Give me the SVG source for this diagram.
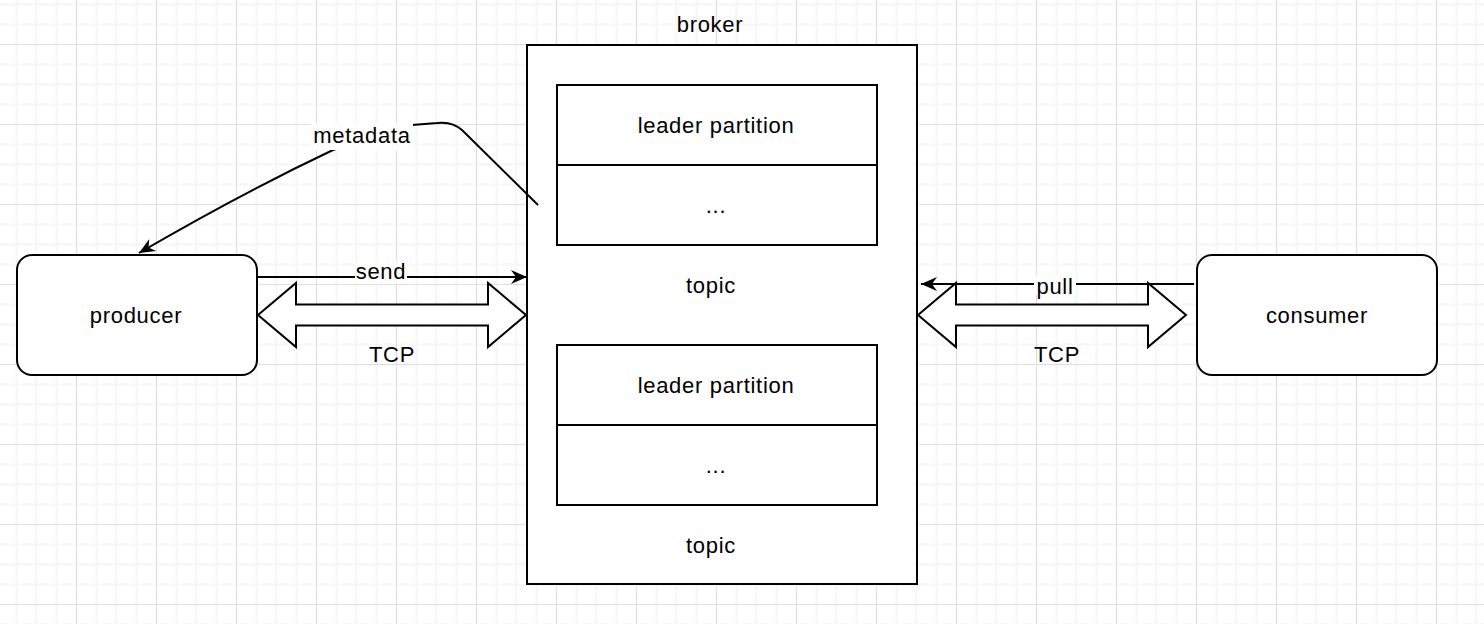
<svg xmlns="http://www.w3.org/2000/svg" width="1484" height="624" viewBox="0 0 1484 624">
<style>
.t{font-family:"Liberation Sans",Arial,Helvetica,sans-serif;font-size:22px;letter-spacing:0.7px;fill:#000;text-anchor:middle}
.s{fill:#fff;stroke:#000;stroke-width:2}
.e{fill:none;stroke:#000;stroke-width:2}
</style>
<defs>
<pattern id="grid" x="76" y="44" width="80" height="80" patternUnits="userSpaceOnUse">
<rect x="19.5" y="0" width="2" height="80" fill="#f6f6f6"/>
<rect x="39.5" y="0" width="2" height="80" fill="#f6f6f6"/>
<rect x="59.5" y="0" width="2" height="80" fill="#f6f6f6"/>
<rect x="0" y="19.5" width="80" height="2" fill="#f6f6f6"/>
<rect x="0" y="39.5" width="80" height="2" fill="#f6f6f6"/>
<rect x="0" y="59.5" width="80" height="2" fill="#f6f6f6"/>
<rect x="0" y="0" width="1" height="80" fill="#dedede"/>
<rect x="0" y="0" width="80" height="1" fill="#dedede"/>
</pattern>
<marker id="arr" markerUnits="userSpaceOnUse" markerWidth="20" markerHeight="20" viewBox="-18 -10 20 20" refX="0" refY="0" orient="auto">
<path d="M0,0 L-16,-7 L-11,0 L-16,7 Z" fill="#000"/>
</marker>
</defs>
<rect width="1484" height="624" fill="#fff"/>
<rect width="1484" height="624" fill="url(#grid)"/>

<g id="broker">
<rect class="s" x="527" y="45" width="390" height="539"/>
<text class="t" x="710" y="32">broker</text>
<text class="t" x="711" y="293">topic</text>
<text class="t" x="711" y="553">topic</text>
</g>
<g id="partition1">
<rect class="s" x="557" y="85" width="320" height="160"/>
<line class="e" x1="557" y1="165" x2="877" y2="165"/>
<text class="t" x="716" y="133">leader partition</text>
<text class="t" x="716" y="213">...</text>
</g>
<g id="partition2">
<rect class="s" x="557" y="345" width="320" height="160"/>
<line class="e" x1="557" y1="425" x2="877" y2="425"/>
<text class="t" x="716" y="393">leader partition</text>
<text class="t" x="716" y="473">...</text>
</g>
<g id="producer">
<rect class="s" x="17" y="255" width="240" height="120" rx="15" ry="15"/>
<text class="t" x="136" y="323">producer</text>
</g>
<g id="consumer">
<rect class="s" x="1197" y="255" width="240" height="120" rx="15" ry="15"/>
<text class="t" x="1317" y="323">consumer</text>
</g>

<g id="connectors">
<polygon class="s" points="258,315 296,283 296,304.5 488,304.5 488,283 526,315 488,347 488,325.5 296,325.5 296,347"/>
<text class="t" x="392" y="362">TCP</text>
<polygon class="s" points="918,315 956,283 956,304.5 1148,304.5 1148,283 1186,315 1148,347 1148,325.5 956,325.5 956,347"/>
<text class="t" x="1057" y="362">TCP</text>

<path class="e" d="M257,277 L527,277" marker-end="url(#arr)"/>
<rect x="355" y="262" width="52" height="22" fill="#fff"/>
<text class="t" x="381" y="279">send</text>

<path class="e" d="M1194,284 L921,284" marker-end="url(#arr)"/>
<rect x="1034" y="276" width="42" height="19" fill="#fff"/>
<text class="t" x="1055" y="294">pull</text>

<path class="e" d="M538,205 L462,130 Q452,121 437,123 L412,125 L333,150 Q240,194 139,253" marker-end="url(#arr)"/>
<rect x="311" y="123" width="102" height="27" fill="#fff"/>
<text class="t" x="362" y="143">metadata</text>
</g>
</svg>
